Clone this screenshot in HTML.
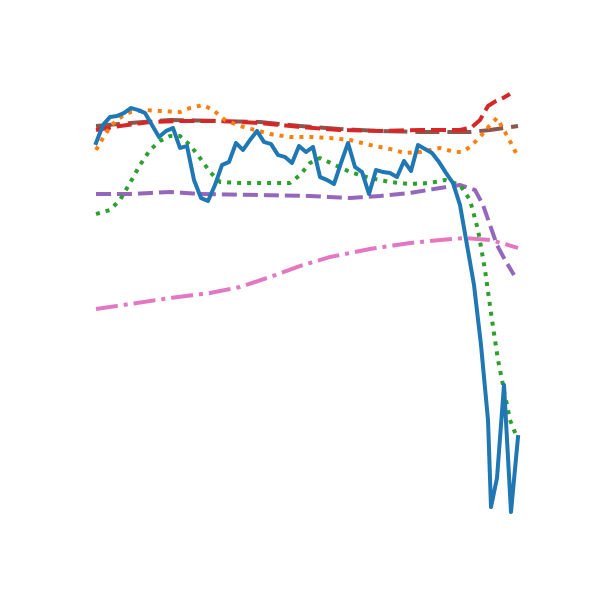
<!DOCTYPE html>
<html><head><meta charset="utf-8"><style>html,body{margin:0;padding:0;background:#fff;width:600px;height:600px;overflow:hidden}</style></head>
<body>
<svg id="chart" width="600" height="600" xmlns="http://www.w3.org/2000/svg">
<rect width="600" height="600" fill="#fff"/>
<g id="plot"></g>
</svg>
<script>
const blueX=[0,7,14,21,28,35,42,49,56,63,70,77,84,91,98,105,112,119,126,133,140,147,154,161,168,175,182,189,196,203,210,217,224,231,238,245,252,259,266,273,280,287,294,301,308,315,322,329,336,343,350,357,364,371,378,385,392,395,401,408,415,422];
const blueY=[417,435,443,444,447,452,450,447,435,423,429,432,412,414,380,362,359,375,395,398,417,410,420,429,418,416,405,403,397,414,408,413,383,380,376,397,417,393,388,366,390,388,387,383,399,389,415,411,407,398,387,377,355,315,275,215,140,53,82,175,48,123];
const orangeX=[0,7,14,21,28,35,42,49,64,84,94,107,117,129,144,159,174,194,214,234,254,274,294,309,324,344,359,366,374,384,394,401,409,416,422];
const orangeY=[410,422,433,440,445,448,449,450,449,448,452,455,450,440,434,430,426,423,423,422,420,415,411,407,408,412,408,408,413,423,435,442,428,415,403];
const greenX=[0,14,24,34,44,54,64,74,84,94,104,114,124,144,164,194,204,214,224,239,254,274,294,314,334,349,364,374,382,389,396,402,408,414,420];
const greenY=[346,350,360,377,395,410,419,424,424,415,402,388,378,377,377,377,385,397,402,395,388,382,378,376,377,380,375,360,330,290,240,200,170,140,125];
const redX=[0,24,54,84,124,164,204,244,284,324,364,376,384,392,400,407,414];
const redY=[430,434,438,439,439,437,433,430,429,430,430,433,440,454,459,462,466];
const brownX=[0,34,74,124,164,204,244,284,324,374,394,422];
const brownY=[434,437,440,439,438,434,431,429,428,428,430,434];
const purpleX=[0,34,74,104,164,214,254,284,314,344,364,379,387,394,401,409,418];
const purpleY=[366,366,368,366,365,364,362,364,367,372,375,370,355,335,315,300,285];
const pinkX=[0,34,74,114,144,174,204,234,274,314,344,369,394,409,422];
const pinkY=[251,256,262,267,273,283,294,303,311,317,320,322,320,316,312];

const xScale=v=>96+v*(423/423);
const yScale=v=>560-v*(500/500);
const plot=document.getElementById('plot');
function addLine(xs,ys,color,dash,name,cap){
  const p=document.createElementNS('http://www.w3.org/2000/svg','path');
  p.setAttribute('d',xs.map((x,i)=>(i?'L':'M')+xScale(x).toFixed(1)+','+yScale(ys[i]).toFixed(1)).join(''));
  p.setAttribute('fill','none');
  p.setAttribute('stroke',color);
  p.setAttribute('stroke-width','4');
  p.setAttribute('stroke-linejoin','round');
  p.setAttribute('stroke-linecap',cap||'butt');
  if(dash)p.setAttribute('stroke-dasharray',dash);
  
  
  plot.appendChild(p);
}
addLine(pinkX,pinkY,'#e377c2','22,6,4,6','series-pink');
addLine(purpleX,purpleY,'#9467bd','15,6','series-purple');
addLine(brownX,brownY,'#8c564b','24,8','series-brown');
addLine(redX,redY,'#d62728','15,6','series-red');
addLine(greenX,greenY,'#2ca02c','4,6','series-green');
addLine(orangeX,orangeY,'#ff7f0e','4,6','series-orange');
addLine(blueX,blueY,'#1f77b4',null,'series-blue','square');
</script>
</body></html>
